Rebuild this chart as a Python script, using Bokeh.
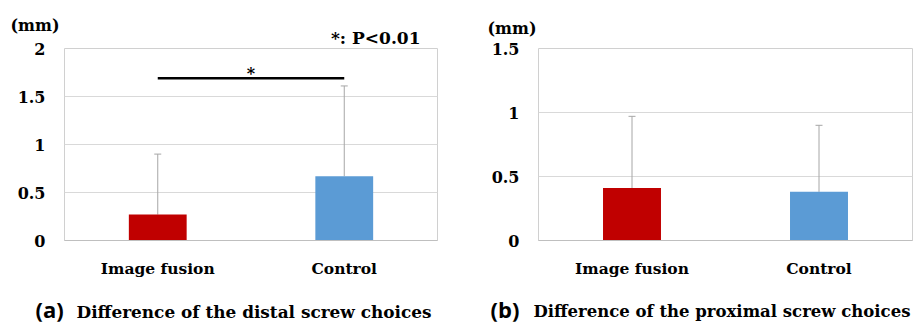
from bokeh.plotting import figure
from bokeh.models import (Range1d, FactorRange, Label, Whisker, TeeHead, ColumnDataSource,
                          FixedTicker, Title)
from bokeh.layouts import row, column
from bokeh.embed import file_html
from bokeh.resources import INLINE

# ---------------- data ----------------
categories = ["Image fusion", "Control"]
bar_colors = ["#C00000", "#5B9BD5"]

distal_mean = [0.27, 0.67]
distal_upper = [0.90, 1.61]
distal_ticks = [0, 0.5, 1, 1.5, 2]
distal_tick_labels = ["0", "0.5", "1", "1.5", "2"]

proximal_mean = [0.41, 0.38]
proximal_upper = [0.97, 0.90]
proximal_ticks = [0, 0.5, 1, 1.5]
proximal_tick_labels = ["0", "0.5", "1", "1.5"]

unit_label = "(mm)"
sig_note = "*: P<0.01"
sig_mark = "*"
sig_bar_y = 1.69
caption_tags = ["(a)", "(b)"]
caption_texts = ["Difference of the distal screw choices",
                 "Difference of the proximal screw choices"]

# ---------------- style / layout ----------------
SERIF = "DejaVu Serif"
SANS = "Open Sans"
HP = 284          # panel figure height
HC = 39           # caption figure height
FRAME_TOP = 48
FRAME_H = 192


def make_panel(width, frame_left, frame_w, ymax, ticks, tick_labels, mean, upper,
               with_sig, mm_offset, mm_standoff):
    src = ColumnDataSource(dict(cat=categories, mean=mean, upper=upper, color=bar_colors))
    p = figure(width=width, height=HP, x_range=FactorRange(*categories),
               y_range=Range1d(0, ymax), output_backend="svg", toolbar_location=None,
               min_border_left=frame_left, min_border_right=width - frame_left - frame_w,
               min_border_top=FRAME_TOP, min_border_bottom=HP - FRAME_TOP - FRAME_H)
    p.background_fill_color = "white"
    p.border_fill_color = "white"
    p.outline_line_color = "#d0d0d0"

    p.vbar(x="cat", top="mean", width=0.31, color="color", line_color=None, source=src)
    w = Whisker(source=src, base="cat", upper="upper", lower="mean",
                line_color="#a6a6a6", line_width=1,
                upper_head=TeeHead(size=7, line_color="#a6a6a6", line_width=1),
                lower_head=None)
    p.add_layout(w)

    p.xgrid.grid_line_color = None
    p.ygrid.grid_line_color = "#d9d9d9"
    p.ygrid.ticker = FixedTicker(ticks=ticks)

    p.yaxis.ticker = FixedTicker(ticks=ticks)
    p.yaxis.major_label_overrides = {t: l for t, l in zip(ticks, tick_labels)}
    p.yaxis.axis_line_color = None
    p.yaxis.major_tick_line_color = None
    p.yaxis.minor_tick_line_color = None
    p.yaxis.major_label_standoff = 13
    p.yaxis.major_label_text_font = SERIF
    p.yaxis.major_label_text_font_style = "bold"
    p.yaxis.major_label_text_font_size = "16px"
    p.yaxis.major_label_text_color = "black"

    p.xaxis.axis_line_color = "#bfbfbf"
    p.xaxis.major_tick_line_color = None
    p.xaxis.minor_tick_line_color = None
    p.xaxis.major_label_standoff = 12
    p.xaxis.major_label_text_font = SERIF
    p.xaxis.major_label_text_font_style = "bold"
    p.xaxis.major_label_text_font_size = "15.5px"
    p.xaxis.major_label_text_color = "black"

    if with_sig:
        p.segment(x0=[categories[0]], x1=[categories[1]], y0=[sig_bar_y], y1=[sig_bar_y],
                  line_color="black", line_width=2.5)
        n = len(categories)
        p.add_layout(Label(x=n / 2, y=sig_bar_y, y_offset=5, text=sig_mark, text_font=SERIF,
                           text_font_style="bold", text_font_size="16px", text_align="center",
                           text_baseline="middle", text_color="black"))
        p.add_layout(Title(text=sig_note, align="right", offset=17, standoff=-2,
                           vertical_align="top",
                           text_font=SERIF, text_font_style="bold", text_font_size="17px",
                           text_color="black"), "above")

    p.add_layout(Title(text=unit_label, align="left", offset=mm_offset, standoff=mm_standoff,
                       vertical_align="bottom",
                       text_font=SERIF, text_font_style="bold", text_font_size="16px",
                       text_color="black"), "above")
    return p


def make_caption(width, tag, text, tag_x, text_x, baseline_y, text_size):
    c = figure(width=width, height=HC, x_range=Range1d(0, width), y_range=Range1d(0, HC),
               output_backend="svg", toolbar_location=None,
               x_axis_location=None, y_axis_location=None,
               min_border_left=0, min_border_right=0, min_border_top=0, min_border_bottom=0)
    c.outline_line_color = None
    c.grid.grid_line_color = None
    c.background_fill_color = "white"
    c.border_fill_color = "white"
    c.add_layout(Label(x=tag_x, y=baseline_y + 2.6, text=tag, text_font=SANS,
                       text_font_style="bold", text_font_size="22px",
                       text_baseline="alphabetic", text_color="black"))
    c.add_layout(Label(x=text_x, y=baseline_y, text=text, text_font=SERIF,
                       text_font_style="bold", text_font_size=text_size,
                       text_baseline="alphabetic", text_color="black"))
    return c


p1 = make_panel(460, 64, 373, 2, distal_ticks, distal_tick_labels, distal_mean, distal_upper,
                True, -54, -13)
p2 = make_panel(454, 78, 374, 1.5, proximal_ticks, proximal_tick_labels, proximal_mean,
                proximal_upper, False, -51, 22)
c1 = make_caption(460, caption_tags[0], caption_texts[0], 35, 76, 12, "16.9px")
c2 = make_caption(454, caption_tags[1], caption_texts[1], 30, 73, 12, "16.5px")

layout = column(row(p1, p2), row(c1, c2))
open("out.html", "w").write(file_html(layout, INLINE))
